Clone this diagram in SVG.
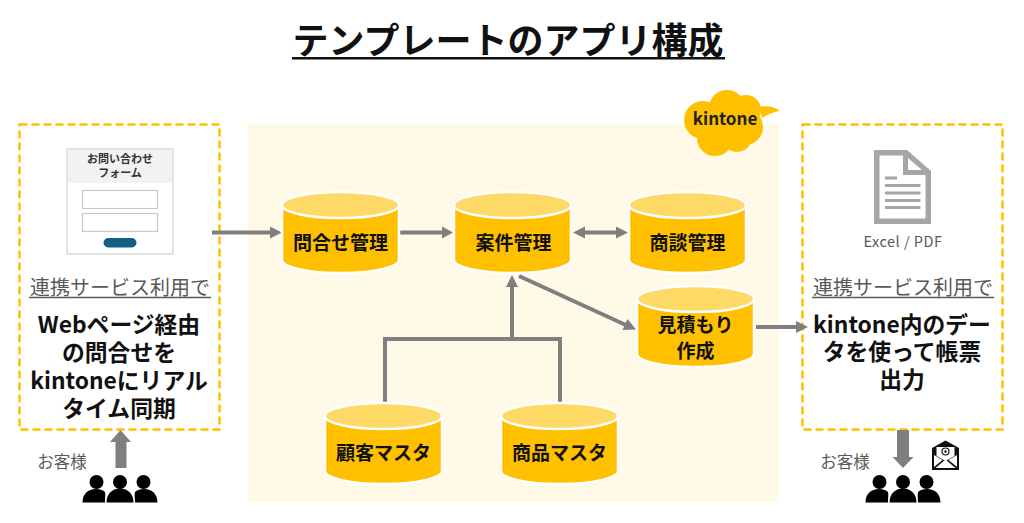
<svg xmlns="http://www.w3.org/2000/svg" width="1024" height="523" viewBox="0 0 1024 523">
<style>
text{font-family:"Noto Sans CJK JP","Noto Sans",sans-serif;text-anchor:middle}
.body{fill:#FFC000;stroke:#fff;stroke-width:2.5}
.top{fill:#FFD966;stroke:#fff;stroke-width:2.5}
.cl{font-size:19px;font-weight:700;fill:#111}
.dash{fill:#fff;stroke:#FFC000;stroke-width:2.5;stroke-dasharray:8 4}
.sub{font-size:20px;fill:#595959}
.main{font-size:22.800px;font-weight:700;fill:#111}
.small{font-size:16.500px;fill:#595959}
.line{fill:none;stroke:#7F7F7F;stroke-width:4}
.head{fill:#7F7F7F}
.ul{stroke:#595959;stroke-width:1.3}
</style>
<defs>
<g id="cyl">
<path class="body" d="M0 13V68C0 75 26 81 58.500 81S117 75 117 68V13Z"/>
<ellipse class="top" cx="58.500" cy="13" rx="58.500" ry="13"/>
</g>
<g id="people">
<circle cx="0" cy="7" r="7"/><path d="M-13.500 27.500C-13.500 18-7 13.500 0 13.500S13.500 18 13.500 27.500Z"/>
<circle cx="-23.500" cy="7" r="7"/><path d="M-15 27.500H-37.500C-37.500 19-32 14-24 14-20 14-17.500 15-15.500 16.500-14 18.500-15 22-15 27.500Z"/>
<circle cx="23.500" cy="7" r="7"/><path d="M15 27.500H37.500C37.500 19 32 14 24 14 20 14 17.500 15 15.500 16.500 14 18.500 15 22 15 27.500Z"/>
</g>
</defs>
<rect width="1024" height="523" fill="#fff"/>
<text x="508" y="54" font-size="36" font-weight="700" fill="#111">テンプレートのアプリ構成</text>
<rect x="292" y="57" width="433" height="2.500" fill="#111"/>
<rect x="248" y="124" width="531" height="378" fill="#FFF9E7"/>

<g id="kintone-cloud" fill="#FFC000">
<circle cx="703" cy="120" r="19"/><circle cx="727" cy="108" r="18"/><circle cx="746" cy="110" r="15"/><circle cx="745" cy="127" r="18"/><circle cx="715" cy="138" r="18"/><circle cx="737" cy="137" r="15"/><rect x="705" y="110" width="40" height="30"/>
<path d="M759 107C767 105 775 107 780 111 773 112 767 115 762 118Z"/>
<text x="725" y="125" font-size="17" font-weight="700" fill="#222">kintone</text>
</g>

<g id="left-box">
<rect class="dash" x="19.500" y="124.500" width="200" height="305"/>
<g id="form">
<rect x="67" y="149" width="106" height="105" fill="#fff" stroke="#D9D9D9" stroke-width="1.500"/>
<rect x="67.800" y="149.800" width="104.400" height="33" fill="#F2F2F2"/>
<text x="120" y="163" font-size="11" font-weight="700" fill="#333">お問い合わせ</text>
<text x="120" y="177" font-size="11" font-weight="700" fill="#333">フォーム</text>
<rect x="82.500" y="190.500" width="75" height="18" fill="#fff" stroke="#C8C8C8" stroke-width="1.200"/>
<rect x="82.500" y="213.500" width="75" height="18" fill="#fff" stroke="#C8C8C8" stroke-width="1.200"/>
<rect x="103.500" y="238" width="33" height="9.500" rx="4.700" fill="#156082"/>
</g>
<text class="sub" x="120" y="295">連携サービス利用で</text>
<line class="ul" x1="29" y1="297.500" x2="211" y2="297.500"/>
<text class="main" x="119" y="332.500">Webページ経由</text>
<text class="main" x="119" y="361">の問合せを</text>
<text class="main" x="119" y="389">kintoneにリアル</text>
<text class="main" x="119" y="417">タイム同期</text>
</g>

<g id="right-box">
<rect class="dash" x="802.500" y="124.500" width="200" height="305"/>
<g id="doc">
<path fill="#A6A6A6" fill-rule="evenodd" d="M874 150H907L931 171V224H874ZM879.500 155.500V218.500H925.500V175H903V155.500ZM908 158V170H922Z"/>
<path fill="#A6A6A6" d="M885 176.500H897V179.500H885ZM885 184H920.500V187H885ZM885 191.500H920.500V194.500H885ZM885 199H920.500V202H885ZM885 206H920.500V209H885Z"/>
</g>
<text x="903" y="247" font-size="14.500" fill="#595959" style="letter-spacing:.5px">Excel / PDF</text>
<text class="sub" x="903" y="295">連携サービス利用で</text>
<line class="ul" x1="812" y1="297.500" x2="994" y2="297.500"/>
<text class="main" x="902" y="332.500">kintone内のデー</text>
<text class="main" x="902" y="360">タを使って帳票</text>
<text class="main" x="902" y="388">出力</text>
</g>

<g id="connectors">
<path class="line" d="M212 232.500H272"/><path class="head" d="M270 226.500L282 232.500 270 238.500Z"/>
<path class="line" d="M400 232.500H444"/><path class="head" d="M442 226.500L453 232.500 442 238.500Z"/>
<path class="line" d="M582 232.500H618"/><path class="head" d="M628 232.500L616 226.500V238.500ZM573 232.500L585 226.500V238.500Z"/>
<path class="line" d="M385 402V339H560V402M512 339V284"/><path class="head" d="M512 275L506 287H518Z"/>
<path class="line" d="M519 276L628 326"/><path class="head" d="M636 329.500L622.500 330 627.500 319Z"/>
<path class="line" d="M756 327H800"/><path class="head" d="M808 327L796 321V333Z"/>
<path d="M115.500 468V442H110L120.500 430 131 442H126.500V468Z" fill="#7F7F7F"/>
<path d="M897 430V457H892.500L903 468 913.500 457H909V430Z" fill="#7F7F7F"/>
</g>

<g id="n1"><use href="#cyl" x="282" y="192"/><text class="cl" x="340.500" y="250">問合せ管理</text></g>
<g id="n2"><use href="#cyl" x="454" y="192"/><text class="cl" x="513.500" y="250">案件管理</text></g>
<g id="n3"><use href="#cyl" x="629" y="192"/><text class="cl" x="687.500" y="250">商談管理</text></g>
<g id="n4"><use href="#cyl" x="637" y="286"/><text class="cl" x="695.500" y="332">見積もり</text><text class="cl" x="695.500" y="358">作成</text></g>
<g id="n5"><use href="#cyl" x="325" y="403"/><text class="cl" x="383.500" y="460">顧客マスタ</text></g>
<g id="n6"><use href="#cyl" x="501" y="403"/><text class="cl" x="559.500" y="460">商品マスタ</text></g>

<g id="customer-left"><text class="small" x="62" y="468">お客様</text><use href="#people" x="120" y="475"/></g>
<g id="customer-right"><text class="small" x="845" y="468">お客様</text><use href="#people" x="903" y="475"/>
<g id="mail">
<path fill="#111" d="M932 452V448L945.500 440.500 959 448V470H932Z"/>
<path fill="#fff" d="M936.500 447H954.500V456L945.500 461 936.500 456Z"/>
<path fill="#fff" d="M934 455L942.500 460 934 467ZM957 455L948.500 460 957 467ZM935.500 468L945.500 459.500 955.500 468Z"/>
<circle cx="945.500" cy="451.500" r="3.500" fill="none" stroke="#111" stroke-width="1.200"/><circle cx="945.500" cy="451.500" r="1.200" fill="#111"/>
</g></g>
</svg>
